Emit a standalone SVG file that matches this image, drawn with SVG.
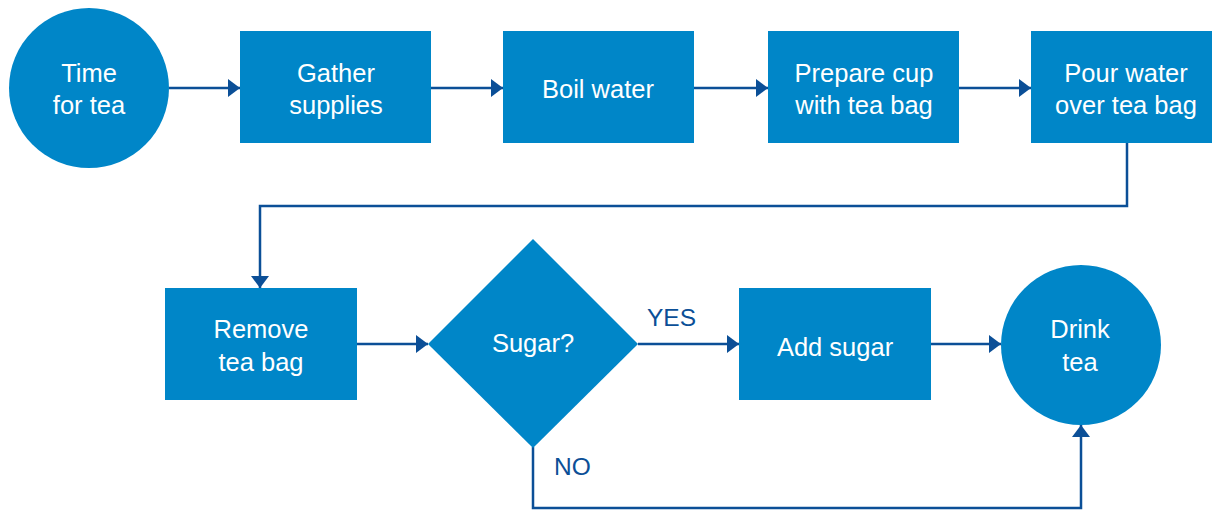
<svg xmlns="http://www.w3.org/2000/svg" width="1212" height="510" viewBox="0 0 1212 510">
<defs>
<marker id="ah" viewBox="0 0 12 18" refX="12" refY="9" markerWidth="12" markerHeight="18" markerUnits="userSpaceOnUse" orient="auto">
<path d="M0,0 L12,9 L0,18 Z" fill="#0b4f97"/>
</marker>
<style>
.n{fill:#0086c8}
.t{fill:#ffffff;font-family:"Liberation Sans",Arial,sans-serif;font-size:25.5px;text-anchor:middle}
.c{fill:none;stroke:#0b4f97;stroke-width:2.5;marker-end:url(#ah)}
.l{fill:#0b4f97;font-family:"Liberation Sans",Arial,sans-serif;font-size:24.5px}
</style>
</defs>
<rect width="1212" height="510" fill="#ffffff"/>
<g id="connectors">
<path class="c" d="M169,88 H240"/>
<path class="c" d="M431,88 H503"/>
<path class="c" d="M694,88 H768"/>
<path class="c" d="M959,88 H1031"/>
<path class="c" d="M1127,143 V206 H260 V288"/>
<path class="c" d="M356,344 H428"/>
<path class="c" d="M638,344 H739"/>
<path class="c" d="M931,344 H1001"/>
<path class="c" d="M533,447 V508 H1081 V425"/>
<text class="l" x="647" y="326">YES</text>
<text class="l" x="554" y="475">NO</text>
</g>
<g id="start">
<circle class="n" cx="89" cy="88" r="80"/>
<text class="t" x="89" y="82">Time</text>
<text class="t" x="89" y="114">for tea</text>
</g>
<g id="gather">
<rect class="n" x="240" y="31" width="191" height="112"/>
<text class="t" x="336" y="82">Gather</text>
<text class="t" x="336" y="114">supplies</text>
</g>
<g id="boil">
<rect class="n" x="503" y="31" width="191" height="112"/>
<text class="t" x="598" y="98">Boil water</text>
</g>
<g id="prepare">
<rect class="n" x="768" y="31" width="191" height="112"/>
<text class="t" x="864" y="82">Prepare cup</text>
<text class="t" x="864" y="114">with tea bag</text>
</g>
<g id="pour">
<rect class="n" x="1031" y="31" width="191" height="112"/>
<text class="t" x="1126" y="82">Pour water</text>
<text class="t" x="1126" y="114">over tea bag</text>
</g>
<g id="remove">
<rect class="n" x="165" y="288" width="192" height="112"/>
<text class="t" x="261" y="338">Remove</text>
<text class="t" x="261" y="371">tea bag</text>
</g>
<g id="sugar">
<path class="n" d="M533,239 L638,344 L533,448 L428,344 Z"/>
<text class="t" x="533" y="352">Sugar?</text>
</g>
<g id="add">
<rect class="n" x="739" y="288" width="192" height="112"/>
<text class="t" x="835" y="356">Add sugar</text>
</g>
<g id="drink">
<circle class="n" cx="1081" cy="345" r="80"/>
<text class="t" x="1080" y="338">Drink</text>
<text class="t" x="1080" y="371">tea</text>
</g>
</svg>
